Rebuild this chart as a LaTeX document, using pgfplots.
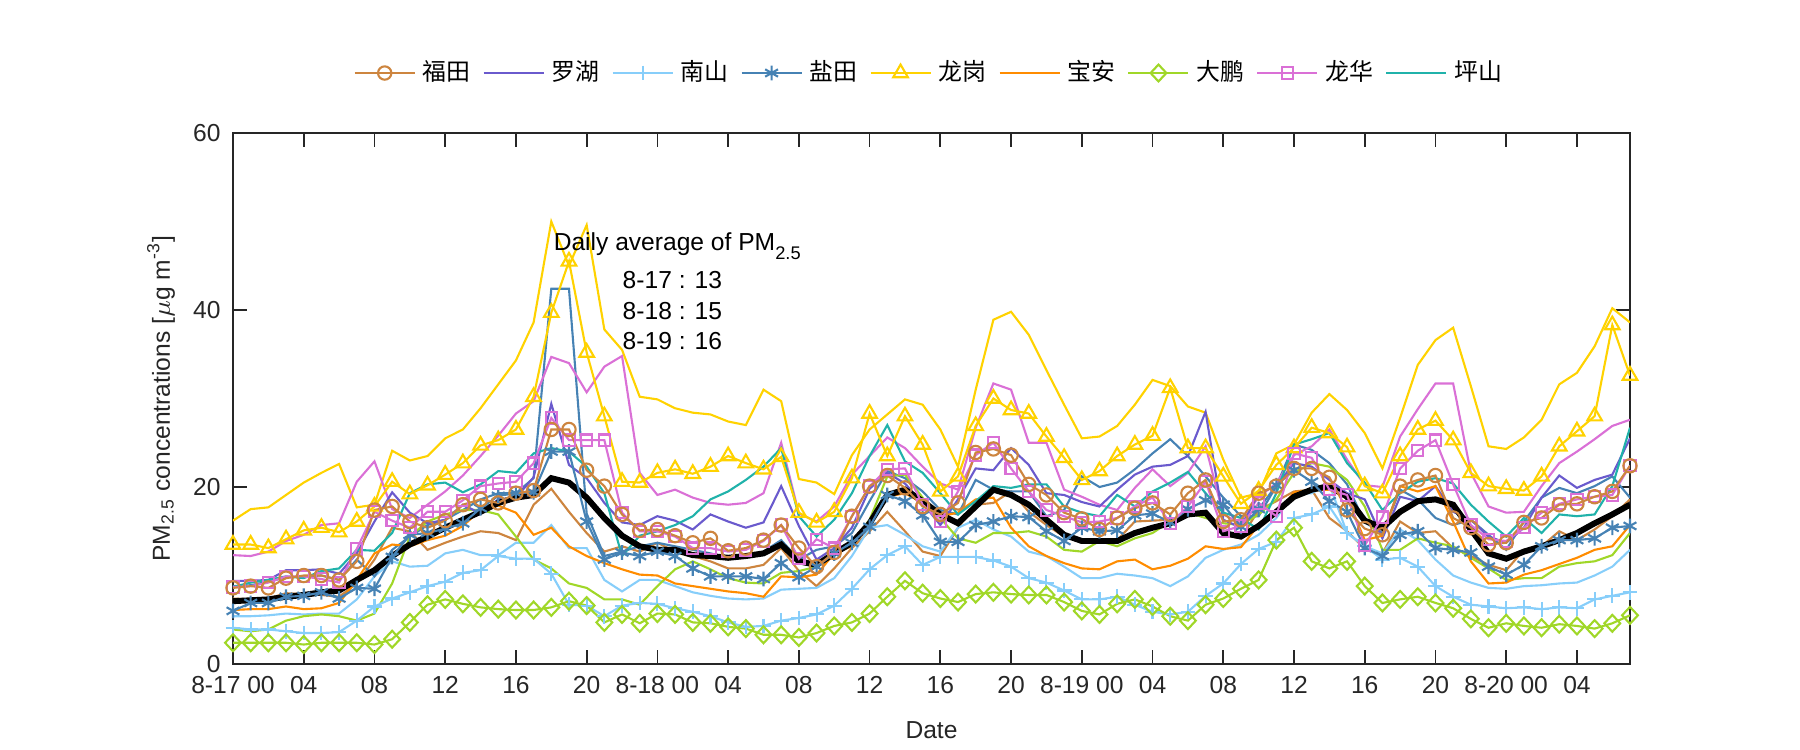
\documentclass[border=0pt]{standalone}
\usepackage{fontspec}
\setmainfont{Liberation Sans}
\newfontfamily\cjk{Noto Sans CJK SC}
\usepackage{pgfplots}
\usepackage{pgfplotstable}
\pgfplotsset{compat=1.18}
\definecolor{axgray}{RGB}{38,38,38}
\definecolor{cfu}{RGB}{205,133,63}
\definecolor{clh}{RGB}{106,90,205}
\definecolor{cns}{RGB}{135,206,250}
\definecolor{cyt}{RGB}{70,130,180}
\definecolor{clg}{RGB}{255,210,0}
\definecolor{cba}{RGB}{255,140,0}
\definecolor{cdp}{RGB}{160,215,40}
\definecolor{clhua}{RGB}{218,112,214}
\definecolor{cps}{RGB}{32,178,170}
\newcommand\fs{\fontsize{7}{8.4}\selectfont}
\newcommand\fsl{\fontsize{6.8}{8}\selectfont}

% 福田 (markers) and second brown line
\pgfplotstableread[row sep=\\]{v\\8.6\\8.8\\8.6\\9.7\\10.0\\10.0\\9.5\\11.6\\17.4\\17.8\\16.1\\15.4\\16.2\\18.0\\18.6\\18.2\\19.3\\19.6\\26.5\\26.5\\21.9\\20.1\\16.9\\15.1\\15.2\\14.5\\13.7\\14.2\\12.8\\13.1\\14.0\\15.7\\13.1\\11.0\\12.6\\16.7\\20.1\\21.3\\19.9\\17.8\\16.9\\18.2\\23.9\\24.3\\23.6\\20.3\\19.1\\17.1\\16.4\\15.2\\16.5\\17.6\\18.2\\16.9\\19.3\\20.8\\16.1\\16.3\\19.3\\20.1\\22.1\\22.1\\21.1\\17.4\\15.3\\14.6\\20.1\\20.8\\21.3\\16.5\\15.4\\13.5\\13.7\\16.0\\16.5\\18.0\\18.1\\18.9\\19.5\\22.4\\}\tfu
\pgfplotstableread[row sep=\\]{v\\7.4\\7.3\\7.4\\8.0\\7.9\\7.8\\7.6\\9.1\\11.8\\15.4\\15.0\\12.9\\13.7\\14.4\\15.0\\14.8\\14.0\\18.0\\19.8\\17.2\\14.8\\12.7\\13.3\\12.7\\13.7\\12.7\\12.2\\11.6\\10.8\\10.8\\11.2\\13.1\\10.5\\8.8\\10.8\\13.1\\15.0\\17.2\\15.0\\12.7\\12.2\\15.4\\18.0\\18.2\\19.5\\17.2\\15.7\\14.4\\14.0\\13.9\\14.0\\16.1\\16.2\\16.3\\16.9\\17.1\\14.6\\14.2\\17.4\\18.4\\19.5\\19.7\\16.5\\15.0\\13.0\\12.5\\16.1\\14.8\\15.0\\13.1\\12.2\\11.2\\10.6\\12.9\\13.3\\15.0\\14.0\\15.2\\16.7\\18.6\\}\tfuB
% 罗湖
\pgfplotstableread[row sep=\\]{v\\9.4\\9.4\\9.5\\10.6\\10.6\\10.7\\10.2\\12.5\\16.1\\19.4\\17.1\\15.9\\16.3\\18.0\\17.0\\18.6\\18.8\\21.1\\29.4\\22.5\\21.0\\18.2\\16.0\\15.7\\16.7\\16.2\\15.2\\16.9\\16.1\\15.4\\16.0\\20.1\\15.6\\11.8\\13.1\\15.4\\19.8\\21.6\\20.4\\18.2\\15.7\\18.6\\22.1\\21.9\\24.4\\22.5\\19.3\\19.1\\18.3\\17.8\\19.7\\21.4\\22.3\\22.5\\23.5\\28.5\\16.3\\15.4\\19.3\\20.1\\22.7\\22.3\\20.8\\19.3\\18.6\\14.2\\18.9\\18.4\\20.1\\17.2\\16.3\\14.4\\13.7\\15.4\\18.8\\21.3\\19.9\\20.8\\21.4\\25.5\\}\tlh
% 南山
\pgfplotstableread[row sep=\\]{v\\4.1\\3.9\\3.9\\3.7\\3.5\\3.5\\3.6\\4.9\\6.5\\7.4\\8.1\\8.8\\9.3\\10.3\\10.6\\12.2\\11.9\\11.9\\10.2\\6.7\\6.6\\5.4\\6.6\\6.9\\6.8\\6.3\\5.9\\5.4\\4.7\\4.2\\4.3\\4.9\\5.2\\5.6\\6.6\\8.5\\10.7\\12.3\\13.3\\11.2\\12.1\\12.1\\12.1\\11.7\\11.0\\9.7\\9.2\\8.3\\7.3\\7.3\\7.6\\6.7\\5.9\\5.6\\5.9\\7.7\\9.1\\11.3\\13.0\\13.8\\16.5\\16.9\\17.8\\14.8\\13.3\\11.8\\12.0\\11.0\\8.8\\7.6\\6.7\\6.5\\6.3\\6.4\\6.2\\6.4\\6.3\\7.3\\7.7\\8.1\\}\tns
\pgfplotstableread[row sep=\\]{v\\5.4\\5.4\\5.5\\5.7\\5.6\\5.7\\5.7\\7.3\\9.9\\11.6\\11.0\\11.1\\12.5\\12.9\\12.3\\12.3\\13.7\\13.7\\15.7\\13.1\\13.1\\9.5\\8.2\\9.5\\9.5\\8.8\\8.1\\7.7\\7.4\\7.3\\7.4\\8.4\\8.5\\8.6\\9.7\\12.2\\15.4\\15.7\\14.6\\13.3\\12.7\\15.4\\16.3\\15.2\\14.4\\12.7\\12.2\\11.0\\9.7\\9.7\\10.2\\10.0\\9.7\\8.8\\9.9\\12.0\\12.9\\13.5\\14.6\\16.5\\19.3\\19.3\\20.3\\14.8\\13.3\\12.5\\15.2\\14.0\\11.8\\10.0\\9.2\\8.6\\8.5\\8.8\\8.9\\9.1\\9.2\\10.0\\11.0\\12.9\\}\tnsB
% 盐田
\pgfplotstableread[row sep=\\]{v\\6.0\\6.9\\6.9\\7.6\\7.7\\8.1\\7.4\\8.6\\8.5\\12.1\\14.6\\14.8\\15.3\\15.9\\17.6\\19.0\\19.3\\19.4\\24.0\\24.0\\16.1\\11.8\\12.6\\12.2\\12.7\\12.2\\10.8\\9.9\\9.9\\9.9\\9.6\\11.4\\9.8\\11.0\\12.5\\13.7\\15.5\\19.1\\18.4\\16.8\\13.8\\13.8\\15.7\\16.1\\16.7\\16.6\\15.0\\13.9\\15.4\\15.0\\15.1\\16.8\\17.0\\16.0\\17.5\\18.5\\18.0\\15.5\\17.5\\20.2\\21.9\\20.6\\18.4\\17.2\\13.1\\12.2\\14.6\\15.0\\13.1\\12.9\\12.6\\11.0\\10.1\\11.2\\13.3\\14.0\\14.0\\14.2\\15.4\\15.6\\}\tyt
\pgfplotstableread[row sep=\\]{v\\8.8\\8.9\\9.3\\9.8\\9.9\\10.0\\9.5\\11.8\\9.9\\12.9\\14.4\\15.7\\16.3\\17.4\\18.6\\19.3\\19.3\\21.0\\42.4\\42.4\\17.0\\12.2\\12.7\\13.3\\13.7\\13.3\\12.9\\12.5\\12.0\\12.0\\12.7\\14.0\\11.8\\12.9\\13.3\\14.8\\18.4\\21.8\\21.0\\19.5\\17.4\\16.9\\20.8\\19.7\\19.5\\19.5\\16.7\\17.4\\21.2\\20.0\\20.5\\22.0\\23.8\\25.4\\23.5\\21.2\\18.8\\16.7\\16.7\\20.1\\24.8\\24.2\\22.7\\20.3\\16.0\\14.8\\19.7\\18.6\\16.5\\15.7\\16.3\\14.6\\12.9\\16.1\\18.8\\19.9\\19.3\\20.1\\21.2\\18.8\\}\tytB
% 龙岗
\pgfplotstableread[row sep=\\]{v\\13.5\\13.5\\13.1\\14.1\\15.1\\15.4\\14.9\\16.1\\17.8\\20.6\\19.2\\20.2\\21.4\\22.7\\24.7\\25.3\\26.5\\30.2\\39.7\\45.5\\35.2\\28.0\\20.6\\20.5\\21.6\\22.0\\21.5\\22.3\\23.5\\22.7\\22.0\\23.4\\17.1\\16.0\\17.2\\21.0\\28.3\\23.5\\28.0\\24.8\\19.5\\21.2\\26.9\\30.0\\28.7\\28.3\\25.7\\23.3\\20.8\\21.8\\23.5\\24.8\\25.8\\31.2\\24.4\\24.4\\21.2\\18.1\\19.6\\22.5\\24.4\\26.7\\26.1\\24.5\\20.1\\19.3\\23.5\\26.5\\27.5\\25.3\\21.6\\20.1\\19.8\\19.6\\21.2\\24.6\\26.3\\28.0\\38.3\\32.6\\}\tlg
\pgfplotstableread[row sep=\\]{v\\16.2\\17.5\\17.7\\19.1\\20.5\\21.6\\22.6\\17.7\\18.0\\24.1\\23.0\\23.5\\25.5\\26.5\\28.9\\31.6\\34.3\\38.6\\50.0\\45.0\\49.6\\37.8\\35.5\\30.2\\29.9\\28.9\\28.4\\28.2\\27.4\\27.0\\31.0\\29.7\\20.9\\20.5\\19.2\\23.6\\26.5\\28.2\\29.9\\29.3\\26.5\\22.3\\31.0\\38.9\\39.8\\37.2\\33.2\\29.3\\25.5\\25.7\\26.9\\29.3\\32.1\\31.4\\29.1\\28.4\\23.1\\18.8\\19.3\\23.8\\24.8\\28.4\\30.5\\28.7\\26.1\\22.1\\27.8\\33.8\\36.6\\38.0\\31.4\\24.6\\24.3\\25.6\\27.6\\31.6\\32.9\\35.9\\40.2\\38.6\\}\tlgB
% 宝安
\pgfplotstableread[row sep=\\]{v\\6.1\\6.2\\6.2\\6.5\\6.2\\6.3\\6.9\\9.5\\12.5\\13.5\\13.3\\14.0\\14.5\\15.6\\17.4\\17.9\\17.1\\14.6\\15.4\\13.3\\12.2\\11.4\\10.7\\10.1\\10.0\\9.1\\8.8\\8.5\\8.2\\8.0\\7.6\\9.9\\9.8\\10.1\\12.5\\13.3\\15.9\\18.9\\19.3\\18.2\\16.7\\17.1\\18.6\\18.8\\15.4\\13.3\\12.2\\11.4\\10.8\\10.7\\11.6\\11.8\\10.7\\11.1\\11.9\\13.3\\13.0\\13.2\\15.7\\16.9\\19.4\\19.6\\19.7\\18.8\\14.0\\14.5\\20.1\\19.5\\20.1\\16.1\\11.6\\9.1\\9.2\\10.1\\10.6\\11.3\\12.0\\12.9\\13.3\\15.7\\}\tba
% 大鹏
\pgfplotstableread[row sep=\\]{v\\2.4\\2.4\\2.4\\2.4\\2.2\\2.4\\2.4\\2.4\\2.2\\2.8\\4.7\\6.7\\7.3\\6.8\\6.4\\6.2\\6.1\\6.1\\6.4\\7.1\\6.6\\4.7\\5.6\\4.6\\5.7\\5.6\\4.7\\4.6\\4.2\\4.0\\3.3\\3.3\\3.0\\3.5\\4.3\\4.7\\5.7\\7.6\\9.4\\8.0\\7.4\\7.0\\7.9\\8.1\\7.9\\7.8\\7.8\\7.0\\6.0\\5.6\\6.8\\7.3\\6.5\\5.4\\4.9\\6.7\\7.4\\8.5\\9.5\\14.0\\15.4\\11.6\\10.8\\11.6\\8.8\\6.9\\7.3\\7.6\\6.9\\6.3\\5.1\\4.1\\4.6\\4.3\\4.1\\4.5\\4.3\\4.0\\4.6\\5.5\\}\tdp
\pgfplotstableread[row sep=\\]{v\\3.9\\3.7\\3.9\\4.9\\5.4\\5.6\\5.4\\4.9\\5.7\\9.1\\14.4\\16.1\\16.9\\17.4\\17.4\\16.9\\14.4\\11.8\\10.8\\9.1\\8.6\\7.3\\7.3\\6.7\\8.8\\10.7\\11.6\\10.7\\9.7\\9.2\\9.1\\10.3\\10.5\\11.0\\12.5\\13.7\\16.3\\21.2\\21.4\\18.8\\16.5\\14.2\\13.7\\14.8\\14.8\\15.0\\14.4\\12.9\\12.7\\13.9\\13.3\\14.2\\14.8\\16.1\\17.1\\16.5\\15.9\\15.7\\16.9\\18.6\\21.6\\22.7\\22.3\\20.8\\17.8\\12.9\\12.9\\14.2\\13.7\\13.3\\12.0\\10.8\\9.5\\9.7\\9.7\\11.0\\11.4\\11.6\\12.3\\14.8\\}\tdpB
% 龙华
\pgfplotstableread[row sep=\\]{v\\8.7\\8.8\\9.2\\9.9\\9.9\\9.6\\9.2\\13.0\\17.2\\16.2\\15.4\\17.2\\17.2\\18.5\\20.1\\20.4\\20.6\\22.7\\27.8\\25.3\\25.3\\25.3\\17.1\\15.0\\15.0\\14.4\\13.1\\13.1\\12.7\\12.9\\13.9\\15.7\\11.9\\14.1\\13.1\\16.7\\20.1\\22.0\\22.1\\18.0\\16.1\\19.5\\23.6\\25.0\\22.1\\19.5\\17.4\\16.7\\16.0\\16.1\\16.5\\17.8\\18.8\\15.9\\17.8\\20.6\\15.0\\15.6\\18.2\\16.7\\23.8\\23.3\\19.7\\19.1\\13.4\\16.6\\22.1\\24.1\\25.3\\20.3\\15.7\\14.1\\13.9\\15.4\\17.1\\18.1\\18.6\\18.9\\19.1\\22.4\\}\tlhua
\pgfplotstableread[row sep=\\]{v\\12.3\\12.2\\12.7\\13.9\\14.6\\15.7\\15.9\\20.6\\22.9\\17.5\\16.5\\18.0\\19.5\\21.3\\23.5\\25.8\\28.3\\29.7\\34.7\\34.0\\30.7\\33.6\\34.8\\21.6\\19.1\\19.7\\18.8\\18.2\\18.0\\18.2\\19.3\\25.0\\17.0\\16.1\\17.8\\21.4\\23.5\\25.6\\24.4\\22.3\\20.4\\19.7\\26.7\\31.7\\31.0\\25.0\\25.0\\19.7\\18.9\\18.0\\17.4\\19.9\\22.0\\20.1\\21.6\\24.6\\16.9\\15.9\\18.9\\20.4\\23.6\\24.6\\26.5\\23.1\\20.2\\20.0\\25.7\\28.8\\31.7\\31.7\\21.6\\17.8\\17.1\\17.2\\20.1\\22.7\\24.0\\25.4\\26.9\\27.6\\}\tlhuaB
% 坪山
\pgfplotstableread[row sep=\\]{v\\8.7\\9.2\\9.5\\9.9\\9.7\\10.5\\10.8\\12.9\\12.8\\14.8\\19.3\\20.3\\20.5\\19.4\\20.3\\21.8\\21.6\\23.8\\24.4\\24.0\\22.3\\19.3\\12.2\\14.5\\15.0\\15.7\\16.7\\18.6\\19.5\\20.8\\22.3\\24.4\\16.7\\14.4\\16.3\\19.3\\23.5\\27.0\\22.9\\21.6\\19.3\\16.9\\18.4\\20.1\\19.9\\20.3\\20.3\\17.8\\17.1\\16.7\\19.1\\17.8\\19.5\\20.5\\21.7\\19.3\\17.1\\16.5\\15.2\\19.3\\24.8\\25.4\\26.1\\22.7\\20.5\\17.4\\19.3\\20.6\\21.0\\20.4\\18.0\\16.1\\14.4\\16.5\\14.8\\16.9\\16.7\\16.9\\20.1\\26.7\\}\tps
% average
\pgfplotstableread[row sep=\\]{v\\7.1\\7.2\\7.3\\7.6\\7.8\\8.1\\8.3\\9.5\\10.6\\12.2\\13.5\\14.4\\15.4\\16.3\\17.2\\18.2\\18.8\\19.1\\21.0\\20.5\\18.8\\16.5\\14.5\\13.3\\12.9\\12.9\\12.3\\12.2\\12.0\\12.2\\12.5\\13.5\\11.6\\11.2\\12.5\\13.7\\15.9\\19.1\\19.7\\18.4\\16.9\\15.9\\17.8\\19.7\\19.1\\18.0\\16.3\\14.6\\13.9\\13.9\\13.9\\14.8\\15.4\\15.9\\16.9\\17.1\\14.8\\14.4\\15.6\\17.2\\18.9\\19.7\\20.1\\18.9\\16.2\\15.4\\17.2\\18.4\\18.6\\18.0\\15.2\\12.5\\11.9\\12.7\\13.3\\14.0\\14.8\\15.9\\16.9\\18.0\\}\tavg

\pgfplotsset{
  st fu/.style={color=cfu, line width=0.6pt, mark=o, mark size=1.9pt},
  st lh/.style={color=clh, line width=0.6pt},
  st ns/.style={color=cns, line width=0.6pt, mark=+, mark size=2.1pt},
  st yt/.style={color=cyt, line width=0.6pt, mark=asterisk, mark size=2.1pt},
  st lg/.style={color=clg, line width=0.6pt, mark=triangle, mark size=2.4pt},
  st ba/.style={color=cba, line width=0.6pt},
  st dp/.style={color=cdp, line width=0.6pt, mark=diamond, mark size=2.4pt, mark options={xscale=1.25}},
  st lhua/.style={color=clhua, line width=0.6pt, mark=square, mark size=1.6pt},
  st ps/.style={color=cps, line width=0.6pt},
  st thin/.style={line width=0.6pt, no markers, forget plot},
}

\begin{document}
\begin{tikzpicture}
\path[use as bounding box] (-23.3mm,-8.6mm) rectangle (156.7mm,66.4mm);
\begin{axis}[
  scale only axis, width=139.7mm, height=53.1mm,
  xmin=0, xmax=79, ymin=0, ymax=60,
  xtick={0,4,...,76},
  xticklabels={8-17 00,04,08,12,16,20,8-18 00,04,08,12,16,20,8-19 00,04,08,12,16,20,8-20 00,04},
  ytick={0,20,40,60},
  tick align=inside, major tick length=1.4mm,
  axis line style={color=axgray, line width=0.5pt},
  every tick/.style={color=axgray, line width=0.5pt},
  ticklabel style={font=\fs, text=axgray},
  /pgf/number format/assume math mode=true,
  xlabel={Date},
  ylabel={PM\textsubscript{2.5} concentrations [$\mu$g m\textsuperscript{-3}]},
  label style={font=\fs, text=axgray},
  xlabel style={at={(axis description cs:0.5,-0.124)}, anchor=center},
  ylabel style={at={(axis description cs:-0.0515,0.5)}, anchor=center},
  legend style={at={(0.5,1)}, anchor=center, yshift=6.0mm, draw=none, fill=none, font=\fsl,
    legend columns=-1, /tikz/every even column/.append style={column sep=0.5mm}},
  legend cell align=left,
]
% unlabelled companion lines
\addplot[st thin, color=cfu] table[x expr=\coordindex, y=v] {\tfuB};
\addplot[st thin, color=cns] table[x expr=\coordindex, y=v] {\tnsB};
\addplot[st thin, color=cyt] table[x expr=\coordindex, y=v] {\tytB};
\addplot[st thin, color=clg] table[x expr=\coordindex, y=v] {\tlgB};
\addplot[st thin, color=cdp] table[x expr=\coordindex, y=v] {\tdpB};
\addplot[st thin, color=clhua] table[x expr=\coordindex, y=v] {\tlhuaB};
% unmarked legend series
\addplot[st lh, forget plot] table[x expr=\coordindex, y=v] {\tlh};
\addplot[st ba, forget plot] table[x expr=\coordindex, y=v] {\tba};
\addplot[st ps, forget plot] table[x expr=\coordindex, y=v] {\tps};
% average
\addplot[black, line width=1.7pt, no markers, forget plot] table[x expr=\coordindex, y=v] {\tavg};
% marked series
\addplot[st ns, forget plot] table[x expr=\coordindex, y=v] {\tns};
\addplot[st dp, forget plot] table[x expr=\coordindex, y=v] {\tdp};
\addplot[st yt, forget plot] table[x expr=\coordindex, y=v] {\tyt};
\addplot[st lg, forget plot] table[x expr=\coordindex, y=v] {\tlg};
\addplot[st lhua, forget plot] table[x expr=\coordindex, y=v] {\tlhua};
\addplot[st fu, forget plot] table[x expr=\coordindex, y=v] {\tfu};
% legend
\addlegendimage{st fu}\addlegendentry{\cjk 福田}
\addlegendimage{st lh}\addlegendentry{\cjk 罗湖}
\addlegendimage{st ns}\addlegendentry{\cjk 南山}
\addlegendimage{st yt}\addlegendentry{\cjk 盐田}
\addlegendimage{st lg}\addlegendentry{\cjk 龙岗}
\addlegendimage{st ba}\addlegendentry{\cjk 宝安}
\addlegendimage{st dp}\addlegendentry{\cjk 大鹏}
\addlegendimage{st lhua}\addlegendentry{\cjk 龙华}
\addlegendimage{st ps}\addlegendentry{\cjk 坪山}
% annotation
\node[anchor=west, font=\fs, inner sep=0pt] at (axis cs:18.1,47.2) {Daily average of PM\raisebox{-0.75ex}{\fontsize{5.2}{6}\selectfont 2.5}};
\node[anchor=west, font=\fs, inner sep=0pt] at (axis cs:22.0,43.4) {8-17 : 13};
\node[anchor=west, font=\fs, inner sep=0pt] at (axis cs:22.0,39.9) {8-18 : 15};
\node[anchor=west, font=\fs, inner sep=0pt] at (axis cs:22.0,36.5) {8-19 : 16};
\end{axis}
\end{tikzpicture}
\end{document}
